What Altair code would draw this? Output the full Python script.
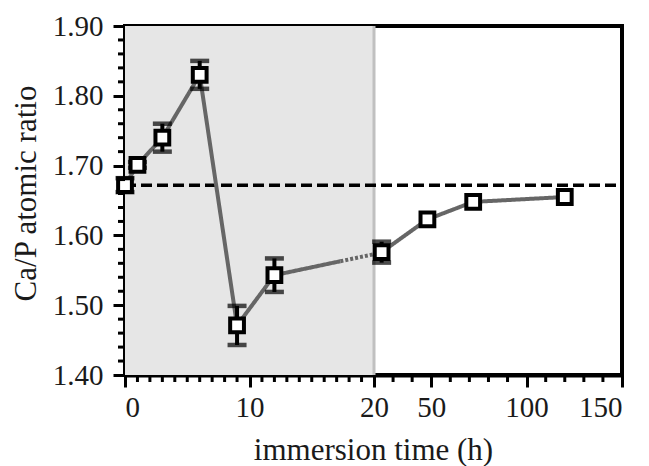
import altair as alt
import pandas as pd

# ---- values ----
times = [0, 1, 3, 6, 9, 12, 24, 48, 72, 120]
ratios = [1.672, 1.701, 1.740, 1.830, 1.471, 1.543, 1.576, 1.623, 1.648, 1.655]
errors = [0.010, 0.004, 0.020, 0.020, 0.028, 0.024, 0.015, 0.0, 0.0, 0.0]

# connecting line: solid, short dotted stretch, solid
path_t = [0, 1, 3, 6, 9, 12, 17.3, 17.3, 20, 20, 24, 48, 72, 120]
path_v = [1.672, 1.701, 1.740, 1.830, 1.471, 1.543, 1.563, 1.563, 1.573, 1.573, 1.576, 1.623, 1.648, 1.655]
path_seg = ["a"] * 7 + ["d"] * 2 + ["b"] * 5
path_style = ["solid"] * 7 + ["dotted"] * 2 + ["solid"] * 5

ha_ratio = 1.672          # dashed reference line
shade_start, shade_end = 0, 20

x_major = [0, 10, 20, 50, 100, 150]
x_minor = [1, 2, 3, 4, 5, 6, 7, 8, 9, 11, 12, 13, 14, 15, 16, 17, 18, 19,
           30, 40, 60, 70, 80, 90, 110, 120, 130, 140]
y_major = [1.40, 1.50, 1.60, 1.70, 1.80, 1.90]
y_minor = [1.42, 1.44, 1.46, 1.48, 1.52, 1.54, 1.56, 1.58, 1.62, 1.64, 1.66, 1.68,
           1.72, 1.74, 1.76, 1.78, 1.82, 1.84, 1.86, 1.88]

W, H = 497, 349
FONT = "Liberation Serif"
TXT = "#1a1a1a"

pts = pd.DataFrame({"t": times, "v": ratios, "err": errors})
pts["lo"] = pts["v"] - pts["err"]
pts["hi"] = pts["v"] + pts["err"]
path = pd.DataFrame({"t": path_t, "v": path_v, "seg": path_seg, "style": path_style})

xscale = alt.Scale(domain=[0, 20, 150], range=[0, 249, W], nice=False, zero=False)
yscale = alt.Scale(domain=[1.40, 1.90], nice=False, zero=False)

xaxis = alt.Axis(values=x_major, format="d", title="immersion time (h)",
                 titleX=248, titleY=84, titleBaseline="alphabetic",
                 labelBaseline="alphabetic", labelPadding=29)
yaxis = alt.Axis(values=y_major, format=".2f", title="Ca/P atomic ratio",
                 titleX=-90, titleY=167, titleBaseline="alphabetic", titleAngle=270,
                 labelPadding=10)

X = lambda f: alt.X(f, type="quantitative", scale=xscale, axis=xaxis)
Y = lambda f: alt.Y(f, type="quantitative", scale=yscale, axis=yaxis)

shade = alt.Chart(pd.DataFrame({"a": [shade_start], "b": [shade_end]})).mark_rect(
    color="#e6e6e6").encode(x=X("a"), x2="b", y=alt.value(0), y2=alt.value(H))

vline = alt.Chart(pd.DataFrame({"a": [shade_end]})).mark_rule(
    color="#c0c0c0", strokeWidth=3).encode(x=X("a"), y=alt.value(0), y2=alt.value(H))

hline = alt.Chart(pd.DataFrame({"v": [ha_ratio]})).mark_rule(
    color="black", strokeWidth=3.5, strokeDash=[11, 5]).encode(
    y=Y("v"), x=alt.value(0), x2=alt.value(W))

line = alt.Chart(path).mark_line(color="#666666", strokeWidth=4).encode(
    x=X("t"), y=Y("v"), detail="seg:N",
    strokeDash=alt.StrokeDash("style:N", scale=alt.Scale(domain=["solid", "dotted"],
                              range=[[1, 0], [3, 2]]), legend=None))

eb = alt.Chart(pts).transform_filter("datum.err > 0")
err_rule = eb.mark_rule(color="black", strokeWidth=4).encode(x=X("t"), y=Y("lo"), y2="hi")
cap_lo = eb.mark_tick(color="black", orient="horizontal", size=19, thickness=4.5).encode(x=X("t"), y=Y("lo"))
cap_hi = eb.mark_tick(color="black", orient="horizontal", size=19, thickness=4.5).encode(x=X("t"), y=Y("hi"))

points = alt.Chart(pts).mark_point(shape="square", filled=True, fill="white",
                                   stroke="black", strokeWidth=4, size=190, opacity=1).encode(
    x=X("t"), y=Y("v"))

xminor = alt.Chart(pd.DataFrame({"t": x_minor})).mark_rule(color="black", strokeWidth=3).encode(
    x=X("t"), y=alt.value(H), y2=alt.value(H + 7))
yminor = alt.Chart(pd.DataFrame({"v": y_minor})).mark_rule(color="black", strokeWidth=3).encode(
    y=Y("v"), x=alt.value(0), x2=alt.value(-7))

chart = alt.layer(shade, vline, hline, line, err_rule, cap_lo, cap_hi, points, xminor, yminor).properties(
    width=W, height=H,
    autosize=alt.AutoSizeParams(type="none"),
    padding={"left": 125, "top": 26, "right": 27, "bottom": 91},
).configure_view(stroke="black", strokeWidth=4).configure_axis(
    grid=False, domainColor="black", domainWidth=4, tickColor="black", tickWidth=3,
    tickSize=12, labelFont=FONT, labelFontSize=29, labelColor=TXT,
    titleFont=FONT, titleFontSize=31, titleFontWeight="normal", titleColor=TXT,
)

chart.save("out.html", embed_options={"renderer": "svg", "actions": False})
